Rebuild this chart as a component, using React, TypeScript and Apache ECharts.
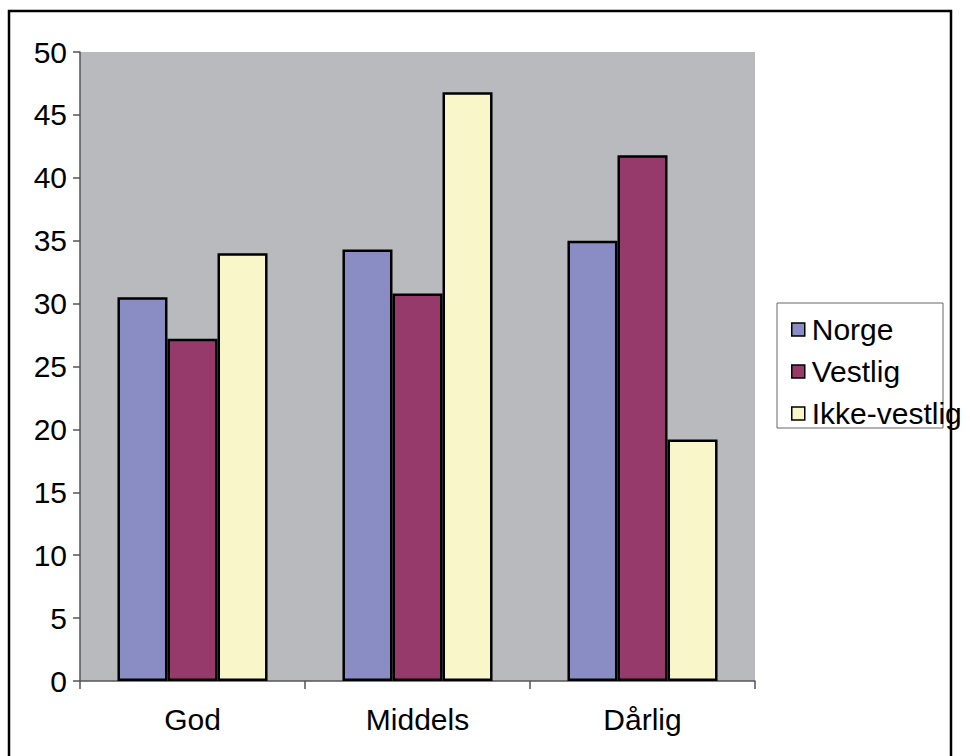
import React, { useEffect, useRef } from "react";
import * as echarts from "echarts";

const categories = ["God", "Middels", "Dårlig"];
const seriesNames = ["Norge", "Vestlig", "Ikke-vestlig"];
const norge = [30.5, 34.3, 35.0];
const vestlig = [27.2, 30.8, 41.8];
const ikkeVestlig = [34.0, 46.8, 19.2];
const seriesColors = ["#8a8cc4", "#963a6c", "#f9f7c9"];
const yMin = 0;
const yMax = 50;
const yStep = 5;

const FONT = "'Liberation Sans', Arial, sans-serif";

export default function App() {
  const ref = useRef<HTMLDivElement>(null);
  useEffect(() => {
    if (!ref.current) return;
    const chart = echarts.init(ref.current, null, { renderer: "svg" });
    const values = [norge, vestlig, ikkeVestlig];
    chart.setOption({
      animation: false,
      backgroundColor: "#ffffff",
      textStyle: { fontFamily: FONT },
      grid: {
        left: 80,
        top: 52,
        right: 215,
        bottom: 75,
        show: true,
        backgroundColor: "#b9babe",
        borderWidth: 0,
      },
      legend: {
        orient: "vertical",
        left: 786,
        top: 309,
        itemWidth: 13,
        itemHeight: 13,
        itemGap: 11,
        itemStyle: { borderColor: "#000", borderWidth: 1.5 },
        textStyle: { fontSize: 30, color: "#000", fontFamily: FONT, lineHeight: 31, padding: [0, 0, 0, 2] },
        data: seriesNames.map((n) => ({ name: n, icon: "rect" })),
      },
      xAxis: {
        type: "category",
        data: categories,
        axisLine: { lineStyle: { color: "#555", width: 1.5 } },
        axisTick: { show: true, length: 8, alignWithLabel: false, lineStyle: { color: "#555", width: 1.5 } },
        axisLabel: { fontSize: 30, color: "#000", margin: 23, fontFamily: FONT },
        splitLine: { show: false },
      },
      yAxis: {
        type: "value",
        min: yMin,
        max: yMax,
        interval: yStep,
        axisLine: { show: true, lineStyle: { color: "#555", width: 1.5 } },
        axisTick: { show: true, length: 7, lineStyle: { color: "#555", width: 1.5 } },
        axisLabel: { fontSize: 30, color: "#000", margin: 13, fontFamily: FONT },
        splitLine: { show: false },
      },
      graphic: [
        {
          type: "rect",
          z: -10,
          shape: { x: 9, y: 11, width: 942, height: 800 },
          style: { fill: "none", stroke: "#000", lineWidth: 2.5 },
          silent: true,
        },
        {
          type: "rect",
          z: -5,
          shape: { x: 777, y: 303, width: 166, height: 125 },
          style: { fill: "#fff", stroke: "#666", lineWidth: 1 },
          silent: true,
        },
      ],
      series: seriesNames.map((name, i) => ({
        name,
        type: "bar",
        data: values[i],
        barGap: "0%",
        barCategoryGap: "33.3%",
        itemStyle: { color: seriesColors[i], borderColor: "#000", borderWidth: 2.5 },
      })),
    });
    return () => chart.dispose();
  }, []);
  return (
    <div
      ref={ref}
      style={{ position: "absolute", left: 0, top: 0, width: 970, height: 756 }}
    />
  );
}
